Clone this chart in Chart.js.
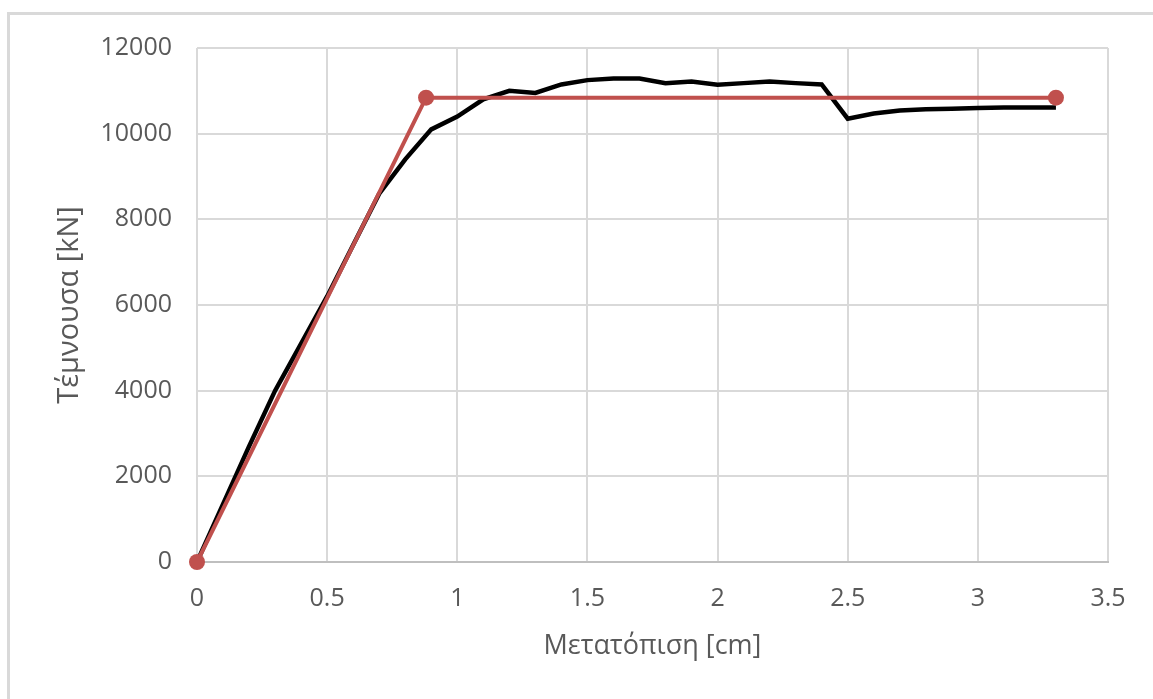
<!DOCTYPE html>
<html>
<head>
<meta charset="utf-8">
<script src="https://cdn.jsdelivr.net/npm/chart.js@4.4.0/dist/chart.umd.min.js"></script>
<style>
  html, body { margin: 0; padding: 0; background: #fff; overflow: hidden; }
  #frame {
    position: absolute; left: 7px; top: 12px; width: 1160px; height: 700px;
    border-left: 3px solid #d9d9d9; border-top: 3px solid #d9d9d9;
  }
  #wrap { position: absolute; left: 0; top: 0; width: 1153px; height: 699px; }
</style>
</head>
<body>
<div id="frame"></div>
<div id="wrap"><canvas id="shearChart"></canvas></div>
<script>
// Μετατόπιση [cm] / Τέμνουσα [kN] - καμπύλη pushover
const dispCm = [0, 0.1, 0.2, 0.3, 0.4, 0.5, 0.6, 0.7, 0.8, 0.9, 1.0, 1.1, 1.2, 1.3, 1.4, 1.5, 1.6,
  1.7, 1.8, 1.9, 2.0, 2.1, 2.2, 2.3, 2.4, 2.5, 2.6, 2.7, 2.8, 2.9, 3.0, 3.1, 3.2, 3.3];
const shearKN = [0, 1350, 2700, 4000, 5100, 6200, 7400, 8600, 9400, 10100, 10400, 10800, 11000, 10950,
  11150, 11250, 11290, 11290, 11180, 11220, 11140, 11180, 11220, 11180, 11150, 10350, 10470, 10540,
  10570, 10580, 10600, 10610, 10610, 10610];

// διγραμμική εξιδανίκευση
const bilinDisp = [0, 0.88, 3.3];
const bilinShear = [0, 10840, 10840];

const xTicks = [0, 0.5, 1, 1.5, 2, 2.5, 3, 3.5];
const yTicks = [0, 2000, 4000, 6000, 8000, 10000, 12000];

const textGray = '#595959';
const gridGray = '#d9d9d9';
const FONT = "'Open Sans', sans-serif";

const toPoints = (xs, ys) => xs.map((x, i) => ({ x: x, y: ys[i] }));

new Chart(document.getElementById('shearChart').getContext('2d'), {
  type: 'scatter',
  data: {
    datasets: [
      {
        label: 'Καμπύλη',
        data: toPoints(dispCm, shearKN),
        showLine: true,
        borderColor: '#000000',
        borderWidth: 4.5,
        pointRadius: 0,
        tension: 0,
        clip: false,
        order: 2
      },
      {
        label: 'Διγραμμική',
        data: toPoints(bilinDisp, bilinShear),
        showLine: true,
        borderColor: '#c0504d',
        backgroundColor: '#c0504d',
        borderWidth: 4,
        pointRadius: 8,
        pointBorderWidth: 0,
        tension: 0,
        clip: false,
        order: 1
      }
    ]
  },
  options: {
    responsive: true,
    maintainAspectRatio: false,
    animation: false,
    layout: { padding: { top: 48, right: 45, left: 0, bottom: 0 } },
    plugins: { legend: { display: false }, tooltip: { enabled: false } },
    scales: {
      x: {
        type: 'linear',
        min: 0, max: 3.5,
        afterBuildTicks: s => { s.ticks = xTicks.map(v => ({ value: v })); },
        afterFit: s => { s.height = 137; },
        grid: { color: gridGray, lineWidth: 2, drawTicks: false },
        border: { color: '#bfbfbf', width: 2 },
        ticks: {
          color: textGray, padding: 22, maxRotation: 0,
          font: { family: FONT, size: 25 },
          callback: v => String(v)
        },
        title: {
          display: true, text: 'Μετατόπιση [cm]', color: textGray,
          font: { family: FONT, size: 27 }, padding: { top: 0, bottom: 36 }
        }
      },
      y: {
        type: 'linear',
        min: 0, max: 12000,
        afterBuildTicks: s => { s.ticks = yTicks.map(v => ({ value: v })); },
        afterFit: s => { s.width = 197; },
        grid: { color: gridGray, lineWidth: 2, drawTicks: false },
        border: { display: false },
        ticks: {
          color: textGray, padding: 25,
          font: { family: FONT, size: 25 },
          callback: v => String(v)
        },
        title: {
          display: true, text: 'Τέμνουσα [kN]', color: textGray,
          font: { family: FONT, size: 29 }, padding: { top: 52, bottom: 0 }
        }
      }
    }
  }
});
</script>
</body>
</html>
